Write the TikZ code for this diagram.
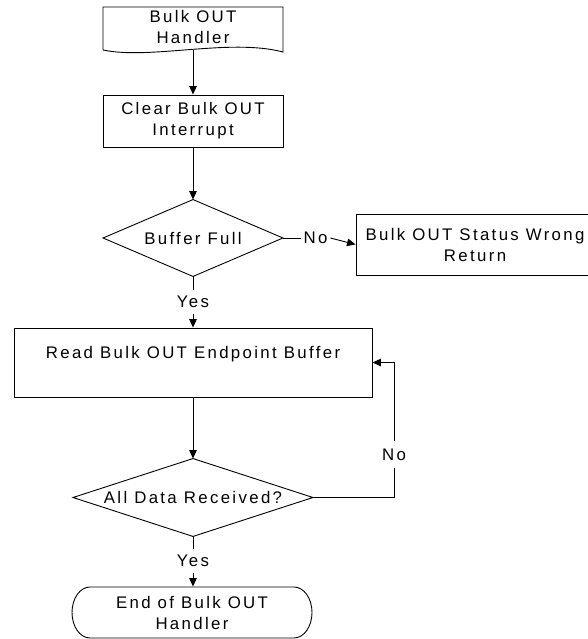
\documentclass[tikz,border=0pt]{standalone}
\usepackage{fontspec}
\setmainfont{Liberation Sans}[LetterSpace=14.0]
\usetikzlibrary{arrows.meta}
\begin{document}
\begin{tikzpicture}[x=1pt,y=-1pt,
  every node/.style={font=\fontsize{16.8pt}{21pt}\selectfont},
  every path/.style={line width=0.9pt},
  stepbox/.style={draw, rectangle, inner sep=0pt, align=center},
  decision/.style={rectangle, inner sep=0pt, align=center,
    append after command={\pgfextra{\draw (\tikzlastnode.north) -- (\tikzlastnode.east)
      -- (\tikzlastnode.south) -- (\tikzlastnode.west) -- cycle;}}},
  plain/.style={inner sep=0pt, align=center},
  lbl/.style={inner xsep=2.5pt, inner ysep=6pt},
  arr/.style={-{Triangle[length=8.5pt,width=7.5pt]}}]
\useasboundingbox (0,0) rectangle (587,639);

% start: document-shaped entry point
\node[plain, minimum width=180pt, minimum height=40pt] (start) at (193,27) {Bulk OUT\\Handler};
\draw (103,50) -- (103,7) -- (283,7) -- (283,52) .. controls (230,38) and (150,60) .. (103,50);
\coordinate (startbot) at (193,50.5);

\node[stepbox, minimum width=180pt, minimum height=52pt] (clear) at (193,121) {Clear Bulk OUT\\Interrupt};
\node[decision, minimum width=179pt, minimum height=76pt] (full) at (193,238) {Buffer Full};
\node[lbl] (no1) at (315.5,238) {No};
\node[stepbox, minimum width=238pt, minimum height=61pt] (status) at (475,244.5) {Bulk OUT Status Wrong\\Return};
\node[lbl] (yes1) at (193,302) {Yes};
\node[stepbox, minimum width=358pt, minimum height=69pt] (read) at (193,362.5) {Read Bulk OUT Endpoint Buffer\\\mbox{}};
\node[decision, minimum width=239pt, minimum height=77pt] (alld) at (193,497.5) {All Data Received?};
\node[lbl, inner ysep=7pt] (no2) at (394,454.5) {No};
\node[lbl] (yes2) at (193,561) {Yes};

% end: terminator with elliptic ends
\node[plain, minimum width=240pt, minimum height=51pt] (end) at (192,612.5) {End of Bulk OUT\\Handler};
\draw (90,587) -- (294,587) arc[start angle=-90, end angle=90, x radius=18, y radius=25.5]
      -- (90,638) arc[start angle=90, end angle=270, x radius=18, y radius=25.5] -- cycle;

% connectors
\draw[arr] (startbot) -- (clear.north);
\draw[arr] (clear.south) -- (full.north);
\draw (full.east) -- (no1.west);
\draw[arr] (no1.east) -- (status.west);
\draw (full.south) -- (yes1.north);
\draw[arr] (yes1.south) -- (read.north);
\draw[arr] (read.south) -- (alld.north);
\draw (alld.east) -| (no2.south);
\draw[arr] (no2.north) |- (read.east);
\draw (alld.south) -- (yes2.north);
\draw[arr] (yes2.south) -- (end.north -| yes2.south);
\end{tikzpicture}
\end{document}
